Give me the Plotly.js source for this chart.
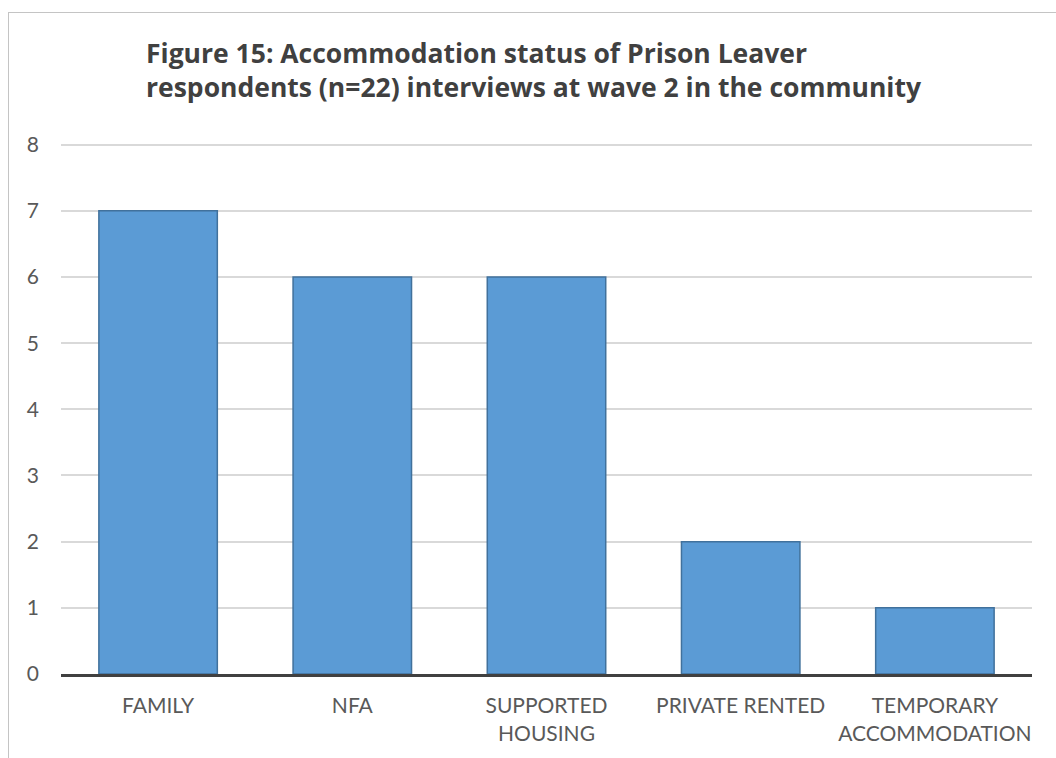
<!DOCTYPE html>
<html>
<head>
<meta charset="utf-8">
<script src="https://cdn.plot.ly/plotly-3.0.1.min.js"></script>
<style>
  html, body { margin: 0; padding: 0; background: #ffffff; }
  #wrap { position: relative; width: 1056px; height: 758px; overflow: hidden; }
  #chart { position: absolute; left: 0; top: 0; width: 1056px; height: 758px; }
  #frame { position: absolute; left: 8px; top: 12px; width: 1100px; height: 800px;
           border-left: 1.5px solid #c4c4c4; border-top: 1.5px solid #c4c4c4; pointer-events: none; }
</style>
</head>
<body>
<div id="wrap">
  <div id="chart"></div>
  <div id="frame"></div>
</div>
<script>
const categories = ["FAMILY", "NFA", "SUPPORTED<br>HOUSING", "PRIVATE RENTED", "TEMPORARY<br>ACCOMMODATION"];
const counts = [7, 6, 6, 2, 1];
const yTicks = [0, 1, 2, 3, 4, 5, 6, 7, 8];
const titleText = "Figure 15: Accommodation status of Prison Leaver<br>respondents (n=22) interviews at wave 2 in the community";

const data = [{
  type: "bar",
  x: categories,
  y: counts,
  marker: { color: "#5b9bd5", line: { color: "#41719c", width: 1.5 } },
  hoverinfo: "x+y"
}];

const layout = {
  width: 1056,
  height: 758,
  margin: { l: 61, r: 24, t: 142, b: 84 },
  paper_bgcolor: "#ffffff",
  plot_bgcolor: "#ffffff",
  bargap: 0.39,
  showlegend: false,
  font: { family: "Lato, 'Open Sans', sans-serif", color: "#595959", size: 21 },
  title: {
    text: titleText,
    font: { family: "'Open Sans', sans-serif", size: 26.5, color: "#404040", weight: "bold" },
    x: 146 / 1056,
    xanchor: "left",
    xref: "container",
    yref: "container",
    y: 1 - 63 / 758,
    yanchor: "top"
  },
  xaxis: {
    type: "category",
    showline: true,
    linecolor: "#404040",
    linewidth: 3,
    ticks: "",
    showgrid: false,
    tickfont: { size: 21, color: "#595959" },
    ticklabelstandoff: 11
  },
  yaxis: {
    range: [0, 8.04],
    tickvals: yTicks,
    showgrid: true,
    gridcolor: "#d9d9d9",
    gridwidth: 1.5,
    zeroline: false,
    showline: false,
    ticks: "",
    tickfont: { size: 21, color: "#595959" },
    ticklabelstandoff: 21
  }
};

Plotly.newPlot("chart", data, layout, { displayModeBar: false, staticPlot: false });
</script>
</body>
</html>
